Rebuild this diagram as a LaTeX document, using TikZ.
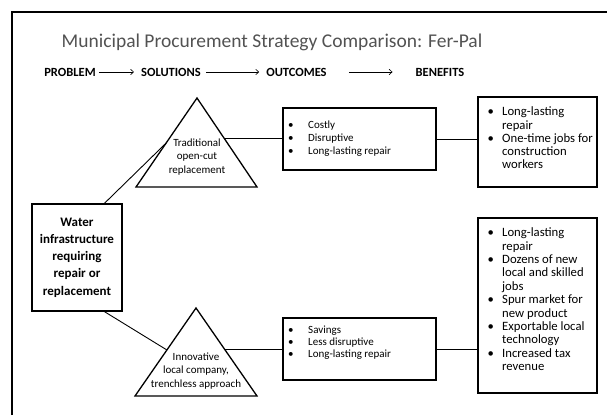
\documentclass[tikz,border=0pt]{standalone}
\usepackage{fontspec}
\setmainfont{Carlito}
\usetikzlibrary{arrows.meta,calc}
\begin{document}
\begin{tikzpicture}[x=1pt,y=-1pt,
  frame/.style={line width=1.2pt},
  box/.style={draw,line width=1.1pt,inner sep=0pt},
  link/.style={line width=0.9pt},
  heading/.style={font=\fontsize{12.5}{14}\selectfont\bfseries,inner sep=0pt},
  hdarrow/.style={line width=0.6pt,-{Straight Barb[length=3pt,width=5.5pt]}},
  tri/.style={line width=1.3pt,line join=miter},
  tritext/.style={align=center,font=\fontsize{11}{13.5}\selectfont,inner sep=0pt},
  list/.style={anchor=north west,inner sep=0pt,align=left}
]
\useasboundingbox (0,0) rectangle (607,415);

% frame (top and left edges)
\draw[frame] (12,415) -- (12,12) -- (607,12);

% title and column headings
\node[font=\fontsize{19.5}{21}\selectfont,text=black!68] (title) at (272,42)
  {Municipal Procurement Strategy Comparison: Fer-Pal};
\node[heading] (hprob) at (70,72) {PROBLEM};
\node[heading] (hsol) at (171,72) {SOLUTIONS};
\node[heading] (hout) at (296.5,72) {OUTCOMES};
\node[heading] (hben) at (440,72) {BENEFITS};
\draw[hdarrow] ([xshift=3pt]hprob.east) -- ([xshift=-7pt]hsol.west);
\draw[hdarrow] ([xshift=5pt]hsol.east) -- ([xshift=-7pt]hout.west);
\draw[hdarrow] ([xshift=22pt]hout.east) -- ([xshift=-23pt]hben.west);

% problem
\node[box,minimum width=90pt,minimum height=107pt,align=center,
  font=\fontsize{13}{17.2}\selectfont\bfseries] (prob) at (77,257.5)
  {Water\\infrastructure\\requiring\\repair or\\replacement};

% solution triangles
\coordinate (t1a) at (197,98);
\coordinate (t1l) at (136,187);
\coordinate (t1r) at (257,187);
\draw[tri] (t1a) -- (t1r) -- (t1l) -- cycle;
\node[tritext] (sol1) at (197,157) {Traditional\\open-cut\\replacement};
\coordinate (t1in) at ($(t1a)!0.506!(t1l)$);
\coordinate (t1out) at ($(t1a)!0.46!(t1r)$);

\coordinate (t2a) at (196,308);
\coordinate (t2l) at (135,396);
\coordinate (t2r) at (257,396);
\draw[tri] (t2a) -- (t2r) -- (t2l) -- cycle;
\node[tritext] (sol2) at (196,371) {Innovative\\local company,\\trenchless approach};
\coordinate (t2in) at ($(t2a)!0.477!(t2l)$);
\coordinate (t2out) at ($(t2a)!0.466!(t2r)$);

% outcomes
\node[box,minimum width=153pt,minimum height=62pt] (out1) at (359.5,139) {};
\node[list,font=\fontsize{11}{13}\selectfont] (out1txt) at (288,119)
  {\begin{tabular}{@{}p{20pt}@{}l@{}}\textbullet & Costly\\ \textbullet & Disruptive\\ \textbullet & Long-lasting repair\end{tabular}};
\node[box,minimum width=153pt,minimum height=62pt] (out2) at (359.5,349) {};
\node[list,font=\fontsize{11}{12}\selectfont] (out2txt) at (288,324.6)
  {\begin{tabular}{@{}p{20pt}@{}l@{}}\textbullet & Savings\\ \textbullet & Less disruptive\\ \textbullet & Long-lasting repair\end{tabular}};

% benefits
\node[box,minimum width=119pt,minimum height=90pt] (ben1) at (537.5,142) {};
\node[list,font=\fontsize{12.7}{13.3}\selectfont] (ben1txt) at (487.5,106.2)
  {\begin{tabular}{@{}p{14.5pt}@{}l@{}}\textbullet & Long-lasting\\ & repair\\ \textbullet & One-time jobs for\\ & construction\\ & workers\end{tabular}};
\node[box,minimum width=119pt,minimum height=175pt] (ben2) at (537.5,305.5) {};
\node[list,font=\fontsize{12.7}{13.4}\selectfont] (ben2txt) at (487.5,227.2)
  {\begin{tabular}{@{}p{14.5pt}@{}l@{}}\textbullet & Long-lasting\\ & repair\\ \textbullet & Dozens of new\\ & local and skilled\\ & jobs\\ \textbullet & Spur market for\\ & new product\\ \textbullet & Exportable local\\ & technology\\ \textbullet & Increased tax\\ & revenue\end{tabular}};

% connectors
\draw[link] ($(prob.north)!0.6!(prob.north east)$) -- (t1in);
\draw[link] ($(prob.south)!0.6!(prob.south east)$) -- (t2in);
\draw[link] (t1out) -- (t1out -| out1.west);
\draw[link] (t2out) -- (t2out -| out2.west);
\draw[link] (out1.east) -- (out1.east -| ben1.west);
\draw[link] (out2.east) -- (out2.east -| ben2.west);
\end{tikzpicture}
\end{document}
